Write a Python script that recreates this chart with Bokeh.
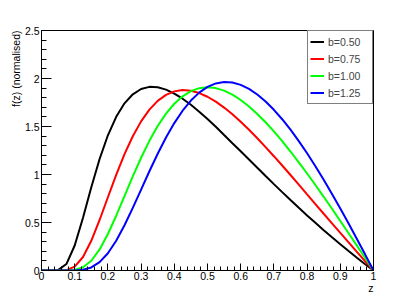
from bokeh.plotting import figure
from bokeh.models import (Range1d, FixedTicker, CustomJSTickFormatter, Title,
                          Legend, LegendItem)
from bokeh.embed import file_html
from bokeh.resources import INLINE

# ---- data ----
z = [0.0, 0.025, 0.05, 0.075, 0.1, 0.125, 0.15, 0.175, 0.2, 0.225, 0.25,
     0.275, 0.3, 0.325, 0.35, 0.375, 0.4, 0.425, 0.45, 0.475, 0.5,
     0.525, 0.55, 0.575, 0.6, 0.625, 0.65, 0.675, 0.7, 0.725, 0.75,
     0.775, 0.8, 0.825, 0.85, 0.875, 0.9, 0.925, 0.95, 0.975, 1.0]

f_b050 = [0, 0, 0.0037, 0.0673, 0.2601, 0.5500, 0.8671, 1.1614, 1.4084, 1.6011,
          1.7416, 1.8356, 1.8904, 1.9128, 1.9091, 1.8845, 1.8434, 1.7896, 1.7259,
          1.6547, 1.5780, 1.4973, 1.4108, 1.3259, 1.2428, 1.1564, 1.0702, 0.9846,
          0.8999, 0.8164, 0.7341, 0.6533, 0.5740, 0.4963, 0.4204, 0.3461, 0.2735,
          0.2026, 0.1334, 0.0659, 0]
f_b075 = [0, 0, 0.0000, 0.0045, 0.0404, 0.1407, 0.3097, 0.5263, 0.7630, 0.9966,
          1.2115, 1.3984, 1.5535, 1.6760, 1.7672, 1.8295, 1.8658, 1.8791, 1.8724,
          1.8485, 1.8098, 1.7587, 1.6971, 1.6267, 1.5492, 1.4658, 1.3776, 1.2856,
          1.1906, 1.0935, 0.9946, 0.8947, 0.7923, 0.6916, 0.5910, 0.4917, 0.3917,
          0.2923, 0.1938, 0.0964, 0]
f_b100 = [0, 0, 0, 0.0003, 0.0058, 0.0331, 0.1017, 0.2194, 0.3802, 0.5706,
          0.7751, 0.9799, 1.1742, 1.3507, 1.5046, 1.6336, 1.7369, 1.8148, 1.8684,
          1.8993, 1.9091, 1.8999, 1.8735, 1.8317, 1.7763, 1.7089, 1.6309, 1.5439,
          1.4489, 1.3471, 1.2395, 1.1270, 1.0104, 0.8904, 0.7677, 0.6427, 0.5160,
          0.3880, 0.2591, 0.1297, 0]
f_b125 = [0, 0, 0, 0, 0.0008, 0.0074, 0.0317, 0.0868, 0.1799, 0.3102,
          0.4709, 0.6520, 0.8428, 1.0336, 1.2164, 1.3851, 1.5354, 1.6643, 1.7704,
          1.8530, 1.9123, 1.9489, 1.9638, 1.9584, 1.9338, 1.8917, 1.8334, 1.7604,
          1.6741, 1.5758, 1.4667, 1.3480, 1.2208, 1.0861, 0.9447, 0.7976, 0.6455,
          0.4890, 0.3289, 0.1657, 0]

series_labels = ["b=0.50", "b=0.75", "b=1.00", "b=1.25"]
series_colors = ["#000000", "#ff0000", "#00ff00", "#0000ff"]

x_ticks = [0, 0.1, 0.2, 0.3, 0.4, 0.5, 0.6, 0.7, 0.8, 0.9, 1.0]
y_ticks = [0, 0.5, 1.0, 1.5, 2.0, 2.5]
x_title = "z"
y_title = "f(z) (normalised)"

FONT = "Liberation Sans"
FS = "10.5px"

p = figure(width=415, height=301, output_backend="svg", toolbar_location=None,
           x_range=Range1d(0, 1), y_range=Range1d(0, 2.5),
           min_border_left=41, min_border_right=42,
           min_border_top=30, min_border_bottom=31)
p.grid.visible = False
p.outline_line_color = "black"
p.outline_line_width = 1
p.background_fill_color = "white"
p.border_fill_color = "white"

x_minor = [i / 50 for i in range(51)]
y_minor = [i / 10 for i in range(26)]
fmt = CustomJSTickFormatter(code="return tick.toFixed(2).replace(/\\.?0+$/, '');")

p.xaxis.ticker = FixedTicker(ticks=x_ticks, minor_ticks=x_minor)
p.yaxis.ticker = FixedTicker(ticks=y_ticks, minor_ticks=y_minor)
for ax in (p.xaxis, p.yaxis):
    ax.formatter = fmt
    ax.axis_line_color = "black"
    ax.major_tick_line_color = "black"
    ax.minor_tick_line_color = "black"
    ax.major_tick_out = 0
    ax.minor_tick_out = 0
    ax.major_label_text_font = FONT
    ax.major_label_text_font_size = FS
    ax.major_label_text_color = "black"
p.xaxis.major_tick_in = 7
p.xaxis.minor_tick_in = 4
p.yaxis.major_tick_in = 10
p.yaxis.minor_tick_in = 5
p.xaxis.major_label_standoff = 1
p.yaxis.major_label_standoff = 2

renderers = []
for ys, col in zip([f_b050, f_b075, f_b100, f_b125], series_colors):
    renderers.append(p.line(z, ys, line_color=col, line_width=2))

legend = Legend(items=[LegendItem(label=lab, renderers=[r])
                       for lab, r in zip(series_labels, renderers)],
                location="top_right", margin=0, padding=2, spacing=0,
                label_height=17, glyph_height=17, glyph_width=14,
                label_standoff=4, label_width=42,
                border_line_color="black", border_line_width=1,
                background_fill_color="white", background_fill_alpha=1,
                label_text_font=FONT, label_text_font_size=FS)
p.add_layout(legend)

p.add_layout(Title(text=y_title, align="right", standoff=-1,
                   text_font=FONT, text_font_size=FS, text_font_style="normal",
                   text_color="black"), "left")
p.add_layout(Title(text=x_title, align="right", standoff=-5,
                   text_font=FONT, text_font_size=FS, text_font_style="normal",
                   text_color="black"), "below")

open("out.html", "w").write(file_html(p, INLINE))
